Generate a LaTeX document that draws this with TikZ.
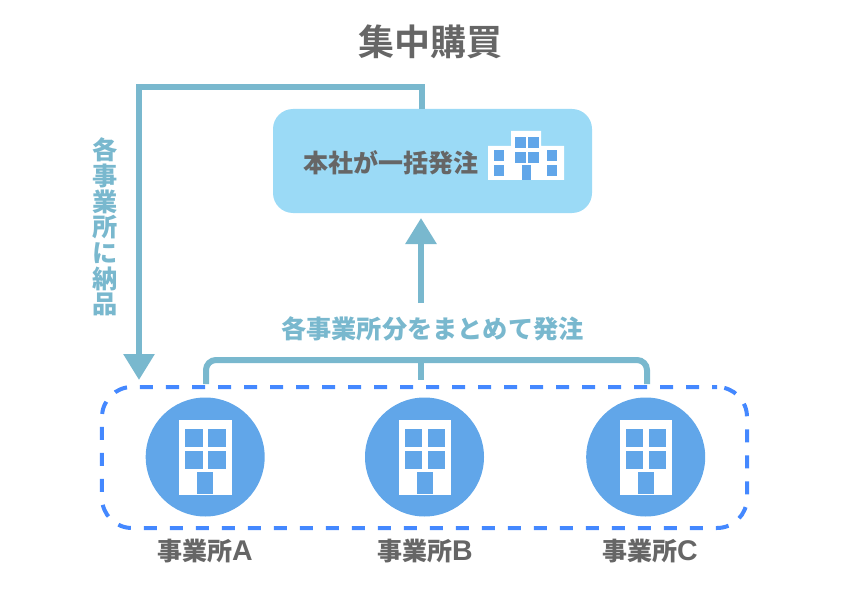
\documentclass[tikz,border=0pt]{standalone}
\usepackage{fontspec}
\setmainfont{Noto Sans CJK JP}[BoldFont={Noto Sans CJK JP Black}]
\newfontfamily\titlefont{Noto Sans CJK JP Bold}
\newfontfamily\latinfont{Liberation Sans Bold}
\usetikzlibrary{arrows.meta}
\definecolor{flowblue}{HTML}{79B8CE}
\definecolor{boxblue}{HTML}{9BDAF6}
\definecolor{sitecol}{HTML}{61A6E9}
\definecolor{dashcol}{HTML}{4488FF}
\definecolor{textgray}{HTML}{666666}
\tikzset{
  flow/.style={draw=flowblue,line width=6bp},
  flowtip/.style={flow,-{Triangle[length=26bp,width=30bp]}},
  hqtext/.style={font=\bfseries\fontsize{25bp}{25bp}\selectfont,text=textgray,inner sep=0pt},
  flowtext/.style={font=\bfseries\fontsize{25.2bp}{25.7bp}\selectfont,text=flowblue,inner sep=0pt,align=center},
  sitedot/.style={circle,fill=sitecol,minimum size=119bp,inner sep=0pt},
}
\newcommand{\sitebldg}[1]{% building in a circle, x of the circle centre
 \fill[white,shift={(#1,457)}] (-26,-37) rectangle (26.5,38);
 \foreach \wx in {-20,3}{\foreach \wy in {-28,-6}{
  \fill[sitecol,shift={(#1,457)}] (\wx,\wy) rectangle +(17.5,17.5);}}
 \fill[sitecol,shift={(#1,457)}] (-8,15) rectangle (8,37);
}
\newcommand{\siteletter}[1]{{\latinfont\fontsize{28.5bp}{28.5bp}\selectfont #1}}
\begin{document}
\begin{tikzpicture}[x=1bp,y=-1bp]
 \useasboundingbox (0,0) rectangle (842,596);
 \node[font=\titlefont\fontsize{36bp}{36bp}\selectfont,text=textgray,inner sep=0pt] (title) at (430,42) {集中購買};
 % head office
 \node[fill=boxblue,rounded corners=20bp,minimum width=319bp,minimum height=104bp,inner sep=0pt] (honsha) at (432.5,161) {};
 \node[hqtext] (hqlabel) at (390.5,163) {本社が一括発注};
 \fill[white] (488,146) rectangle (511,180) (511,131) rectangle (541,180) (541,146) rectangle (564,180);
 \foreach \wx in {515,528}{\foreach \wy in {137,152}{
  \fill[sitecol] (\wx,\wy) rectangle +(10.5,11);}}
 \foreach \wx in {494,547}{\foreach \wy in {150,165}{
  \fill[sitecol] (\wx,\wy) rectangle +(10,11);}}
 \fill[sitecol] (522,165) rectangle (531,180);
 % offices
 \foreach \sx/\sname in {205.2/A,424.5/B,645.7/C}{
  \node[sitedot] (site\sname) at (\sx,457) {};
  \sitebldg{\sx}
 }
 \node[hqtext] (labelA) at (205,551) {事業所\siteletter{A}};
 \node[hqtext] (labelB) at (425,551) {事業所\siteletter{B}};
 \node[hqtext] (labelC) at (650,551) {事業所\siteletter{C}};
 \node[draw=dashcol,line width=4bp,dash pattern=on 13bp off 13bp,dash phase=8bp,rounded corners=30bp,minimum width=645bp,minimum height=141bp,inner sep=0pt] (group) at (424.5,457.5) {};
 % flows
 \coordinate (delivA) at (139,87);
 \coordinate (delivB) at (139,380);
 \draw[flowtip,line join=miter] (422,109) |- (delivA) -- (delivB);
 \node[flowtext] (delivtext) at (105,227) {各\\事\\業\\所\\に\\納\\品};
 \coordinate (joinA) at (421,360);
 \draw[flow,rounded corners=10bp] (206,384) |- (joinA) -| (647,384);
 \draw[flow] (joinA) -- (421,380);
 \node[flowtext] (ordertext) at (432.5,329) {各事業所分をまとめて発注};
 \coordinate (upTip) at (421,218);
 \draw[flowtip] (421,303) -- (upTip);
\end{tikzpicture}
\end{document}
